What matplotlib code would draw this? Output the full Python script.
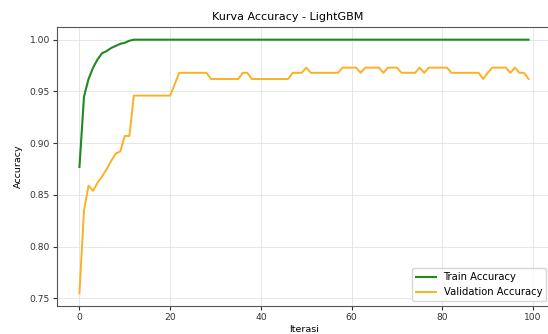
import matplotlib
matplotlib.use("Agg")
import matplotlib.pyplot as plt
import numpy as np

iterations = list(range(100))

train_acc = [0.877, 0.945, 0.962, 0.973, 0.981, 0.987, 0.989, 0.992, 0.994, 0.996,
             0.997, 0.999] + [1.0] * 88

val_acc = [0.755, 0.835, 0.859, 0.854, 0.862, 0.868, 0.875, 0.883, 0.890, 0.892,
           0.907, 0.907, 0.946, 0.946, 0.946, 0.946, 0.946, 0.946, 0.946, 0.946,
           0.946, 0.957, 0.968, 0.968, 0.968, 0.968, 0.968, 0.968, 0.968, 0.962,
           0.962, 0.962, 0.962, 0.962, 0.962, 0.962, 0.968, 0.968, 0.962, 0.962,
           0.962, 0.962, 0.962, 0.962, 0.962, 0.962, 0.962, 0.968, 0.968, 0.968,
           0.973, 0.968, 0.968, 0.968, 0.968, 0.968, 0.968, 0.968, 0.973, 0.973,
           0.973, 0.973, 0.968, 0.973, 0.973, 0.973, 0.973, 0.968, 0.973, 0.973,
           0.973, 0.968, 0.968, 0.968, 0.968, 0.973, 0.968, 0.973, 0.973, 0.973,
           0.973, 0.973, 0.968, 0.968, 0.968, 0.968, 0.968, 0.968, 0.968, 0.962,
           0.968, 0.973, 0.973, 0.973, 0.973, 0.968, 0.973, 0.968, 0.968, 0.962]

W, H = 548, 334
fig = plt.figure(figsize=(W / 100, H / 100), dpi=100)
ax = fig.add_axes([57 / W, (H - 306) / H, (551 - 57) / W, (306 - 27) / H])

ax.plot(iterations, train_acc, color="#1f8a1f", lw=1.5, label="Train Accuracy")
ax.plot(iterations, val_acc, color="#fbb026", lw=1.4, label="Validation Accuracy")

ax.set_yticks([0.75, 0.80, 0.85, 0.90, 0.95, 1.00])
ax.set_xticks([0, 20, 40, 60, 80, 100])
ax.tick_params(labelsize=6.6, length=3, width=0.8, pad=2, colors="#333333")
for s in ax.spines.values():
    s.set_color("#555555")
    s.set_linewidth(0.8)
ax.grid(True, color="#e3e3e3", lw=0.6)
ax.set_title("Kurva Accuracy - LightGBM", fontsize=8, x=0.4676, pad=5)
ax.set_xlabel("Iterasi", fontsize=6.8, labelpad=2)
ax.set_ylabel("Accuracy", fontsize=6.8, labelpad=5)
ax.legend(loc="lower right", fontsize=7.2, framealpha=0.8)

fig.savefig("out.png", dpi=100)
